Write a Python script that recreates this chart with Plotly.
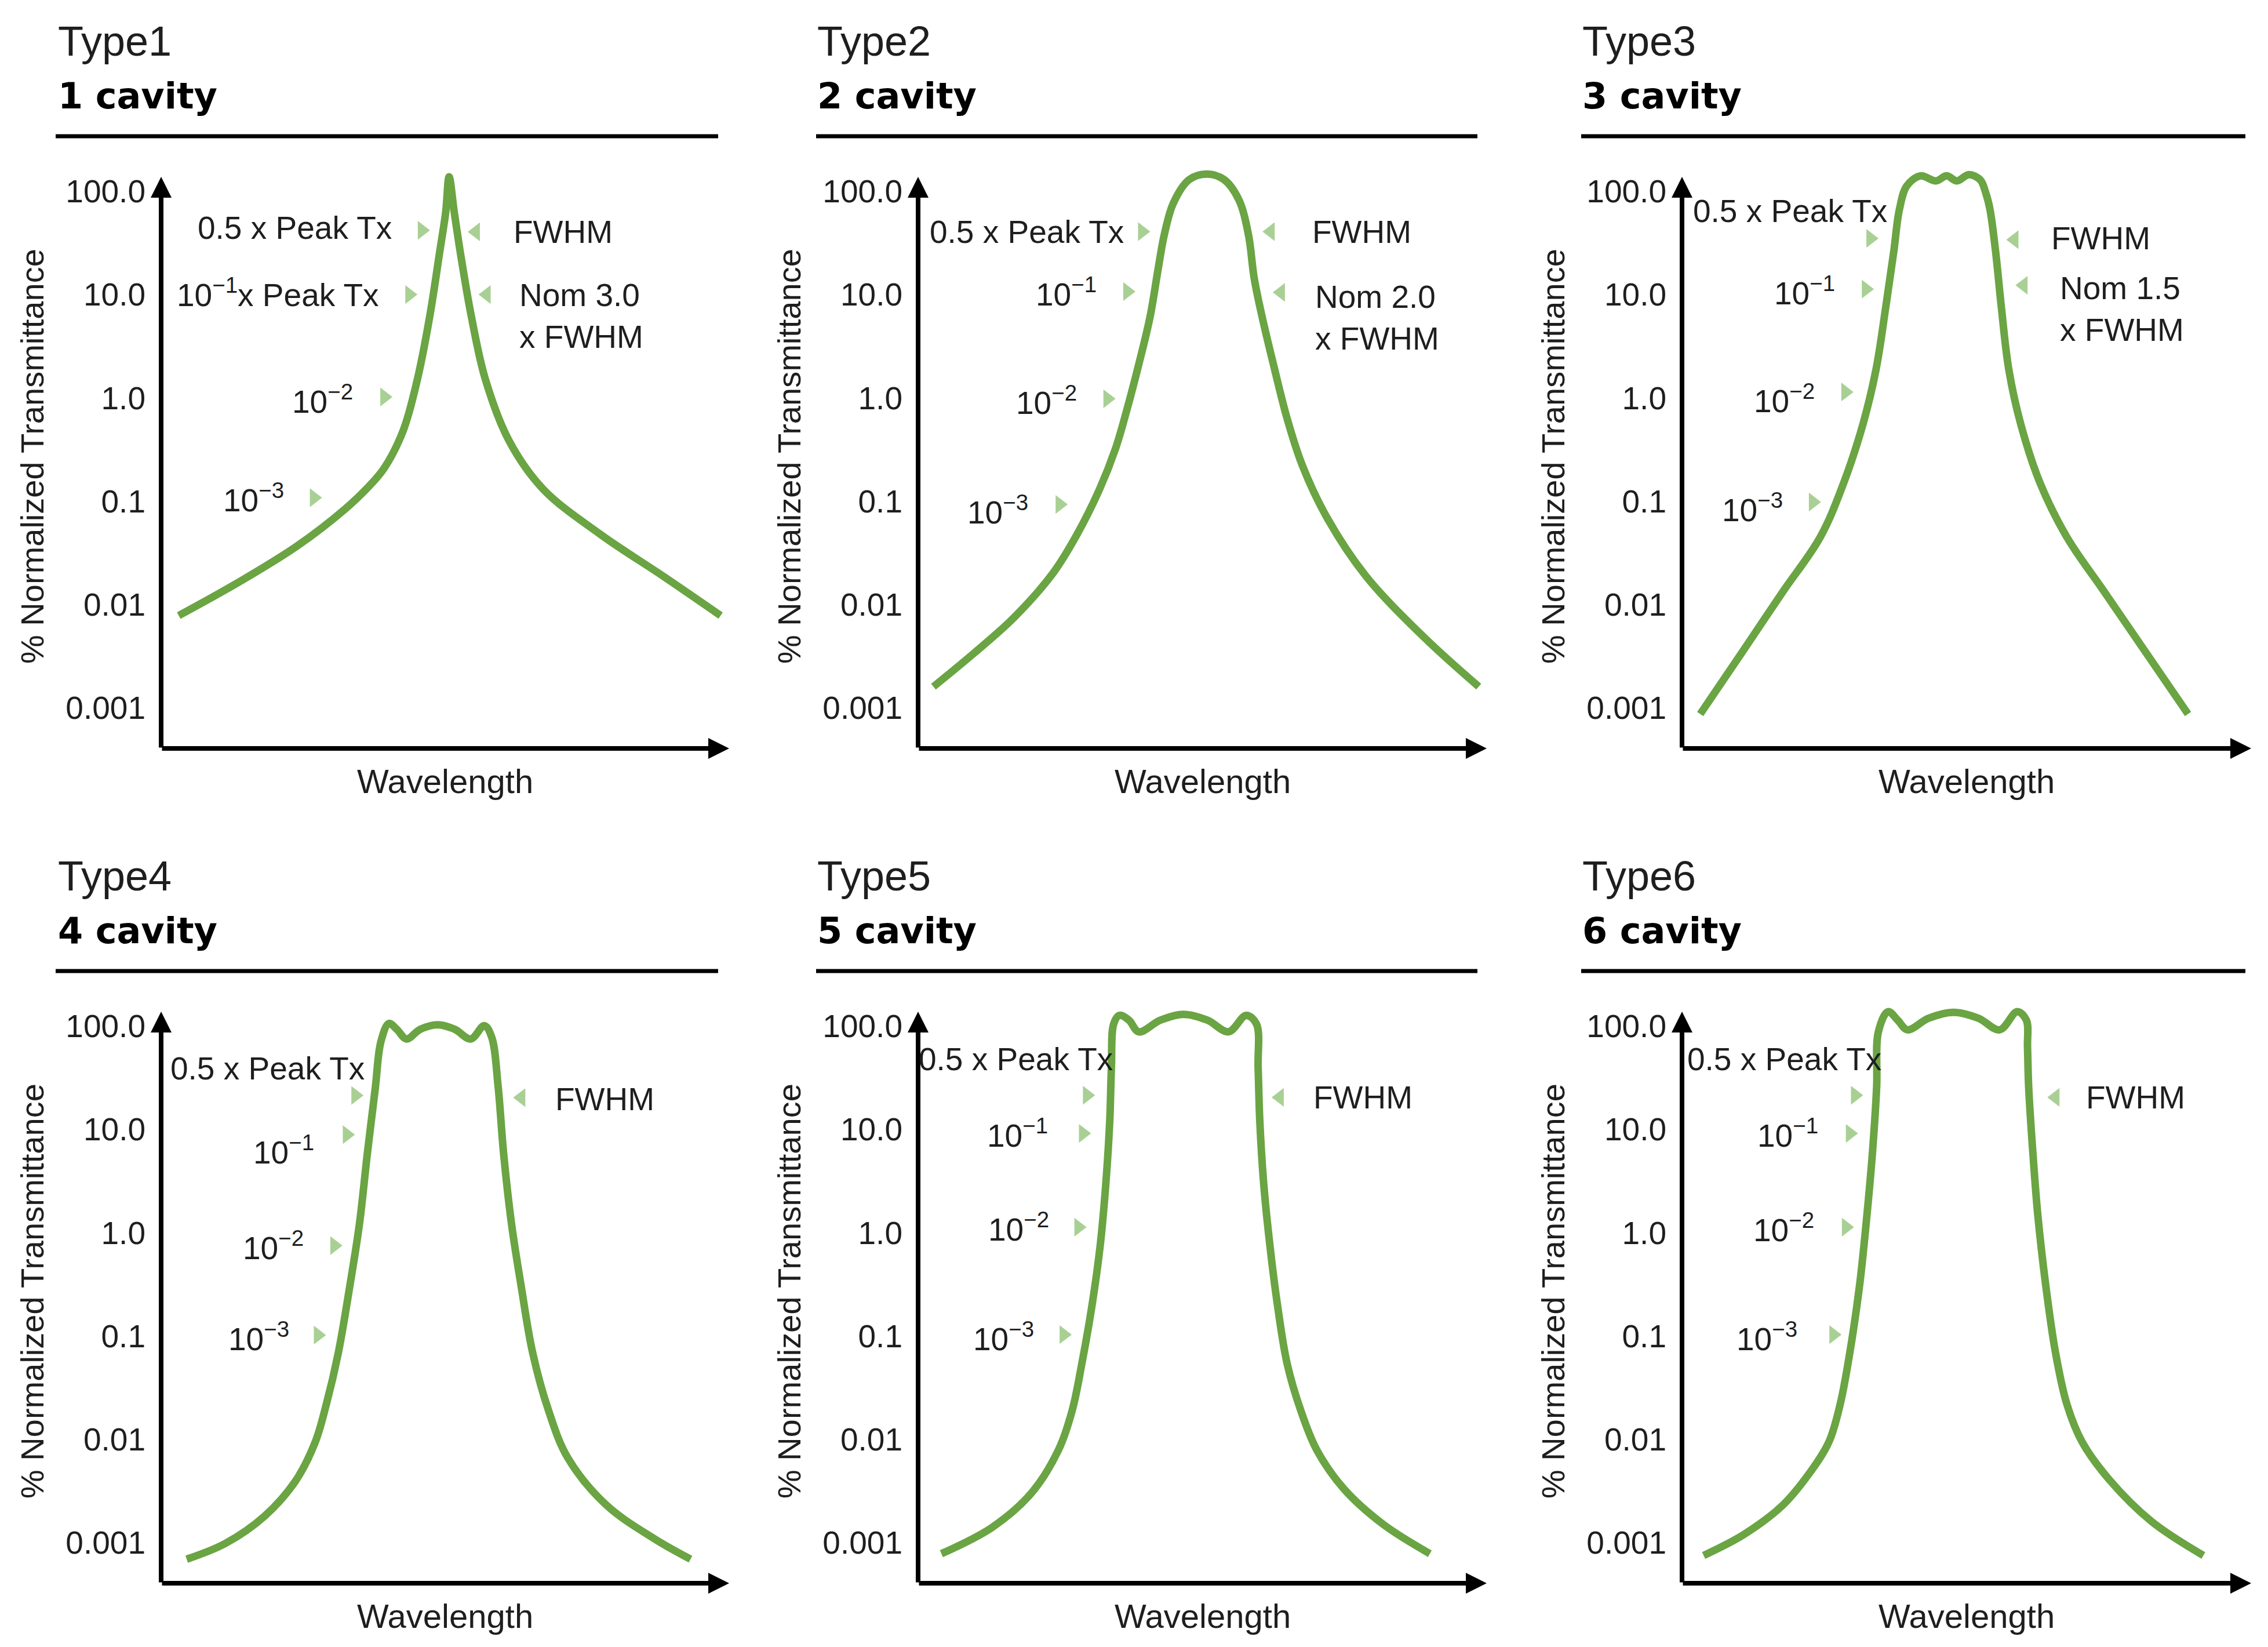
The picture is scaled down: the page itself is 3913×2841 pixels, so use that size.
import numpy as np
import plotly.graph_objects as go

W, H = 3913, 2841

# ---- text ----
type_names = ["Type1", "Type2", "Type3", "Type4", "Type5", "Type6"]
cavity_names = ["1 cavity", "2 cavity", "3 cavity", "4 cavity", "5 cavity", "6 cavity"]
tick_vals = [100, 10, 1, 0.1, 0.01, 0.001]
tick_text = ["100.0", "10.0", "1.0", "0.1", "0.01", "0.001"]

# ---- curves: relative wavelength (0-100 along axis), % normalized transmittance ----
wl_1 = [3.1, 13.8, 24.0, 32.4, 36.3, 39.3, 42.6, 45.1, 47.3, 49.0, 50.1, 50.7, 51.6, 52.7, 54.6,
        57.1, 61.3, 67.3, 77.5, 88.5, 98.5]
tx_1 = [0.0078, 0.0166, 0.037, 0.084, 0.134, 0.21, 0.48, 1.5, 6.2, 25, 63, 138, 63, 25, 6.2,
        1.5, 0.38, 0.13, 0.047, 0.0186, 0.0078]

wl_2 = [2.7, 9.9, 16.8, 23.7, 27.8, 31.9, 34.7, 36.7, 38.8, 40.8, 42.2, 43.3, 44.9, 47.7,
        50.8, 53.8, 56.4, 58.1, 59.1, 60.5, 62.5, 64.9, 67.6, 71.8, 78.7, 89.0, 98.6]
tx_2 = [0.0016, 0.0034, 0.0074, 0.020, 0.046, 0.13, 0.32, 0.76, 2.1, 6.1, 17.5, 38, 77, 130,
        147, 130, 83, 38, 14.5, 6.1, 2.1, 0.63, 0.22, 0.071, 0.019, 0.0048, 0.0016]

wl_3 = [3.2, 10.8, 17.6, 24.3, 28.4, 31.8, 34.1, 35.8, 37.2, 38.2, 39.5, 41.9, 44.6, 46.5,
        48.3, 50.4, 52.4, 53.4, 54.1, 55.1, 56.1, 57.4, 59.5, 62.9, 67.6, 74.3, 81.7, 88.9]
tx_3 = [0.00087, 0.0036, 0.013, 0.045, 0.15, 0.56, 1.9, 7.6, 26, 67, 113, 141, 126, 141,
        126, 145, 129, 95, 67, 26, 7.6, 1.9, 0.56, 0.15, 0.045, 0.013, 0.0033, 0.00087]

wl_4 = [4.5, 11.3, 18.2, 23.6, 27.1, 29.1, 31.2, 33.2, 34.9, 36.3, 37.7, 38.7, 40.1, 41.5,
        43.2, 45.6, 48.7, 51.7, 54.5, 56.9, 58.2, 59.3, 60.3, 61.7, 63.4, 65.4, 68.2, 71.6,
        78.4, 86.7, 93.2]
tx_4 = [0.00069, 0.00098, 0.0018, 0.0039, 0.0093, 0.022, 0.069, 0.30, 1.2, 5.8, 25, 71, 106, 93,
        75, 93, 103, 93, 75, 101, 78, 27, 5.8, 1.2, 0.30, 0.069, 0.019, 0.0066,
        0.0023, 0.0011, 0.00069]

wl_5 = [4.1, 13.0, 19.9, 24.7, 27.1, 28.8, 30.6, 32.0, 33.0, 33.7, 34.0, 34.4, 35.4, 37.1,
        38.8, 42.6, 46.7, 50.9, 54.6, 57.7, 59.5, 59.8, 60.1, 60.8, 61.9, 63.2, 64.9, 67.3,
        70.1, 74.9, 81.8, 90.0]
tx_5 = [0.00078, 0.0014, 0.0030, 0.0079, 0.019, 0.054, 0.20, 0.73, 2.9, 11.9, 40, 105, 127, 114,
        88, 114, 130, 114, 88, 127, 105, 40, 11.9, 2.9, 0.73, 0.20, 0.054, 0.019,
        0.0079, 0.0033, 0.0015, 0.00078]

wl_6 = [3.8, 10.9, 17.7, 22.4, 25.8, 27.8, 29.5, 31.2, 32.5, 33.5, 34.2, 34.5, 36.2, 37.9,
        39.6, 43.3, 47.7, 52.1, 55.8, 58.9, 60.5, 60.7, 60.9, 61.6, 62.5, 63.9, 65.6, 67.6,
        70.3, 75.0, 82.5, 91.6]
tx_6 = [0.00075, 0.0012, 0.0023, 0.0047, 0.0094, 0.022, 0.070, 0.31, 1.5, 6.4, 26, 88, 138, 114,
        92, 119, 136, 119, 92, 138, 114, 63, 26, 6.4, 1.5, 0.31, 0.070, 0.022,
        0.0094, 0.0041, 0.0016, 0.00075]

# ---- level labels (left side) and their pointer marks ----
left_text_1 = ["0.5 x Peak Tx", "10<sup>\u22121</sup>x Peak Tx", "10<sup>\u22122</sup>", "10<sup>\u22123</sup>"]
left_text = ["0.5 x Peak Tx", "10<sup>\u22121</sup>", "10<sup>\u22122</sup>", "10<sup>\u22123</sup>"]

left_x_1 = [40.8, 38.6, 34.0, 21.8]
left_tx_1 = [44.4, 10.4, 0.96, 0.107]
lmark_x_1 = [45.9, 43.7, 39.3, 26.9]
lmark_tx_1 = [41.9, 10.0, 1.02, 0.108]

left_x_2 = [36.4, 31.6, 28.1, 19.6]
left_tx_2 = [40.7, 10.5, 0.94, 0.082]
lmark_x_2 = [39.4, 36.8, 33.3, 24.9]
lmark_tx_2 = [40.7, 10.7, 0.98, 0.093]

left_x_3 = [36.3, 27.1, 23.5, 17.9]
left_tx_3 = [64.6, 10.8, 0.98, 0.086]
lmark_x_3 = [33.1, 32.3, 28.7, 23.0]
lmark_tx_3 = [35.0, 11.3, 1.14, 0.098]

left_x_4 = [36.0, 27.1, 25.3, 22.8]
left_tx_4 = [39.0, 6.28, 0.75, 0.0975]
lmark_x_4 = [34.2, 32.7, 30.5, 27.6]
lmark_tx_4 = [21.3, 8.9, 0.75, 0.102]

left_x_5 = [34.5, 23.0, 23.2, 20.6]
left_tx_5 = [47.9, 9.14, 1.13, 0.0986]
lmark_x_5 = [29.7, 29.0, 28.2, 25.6]
lmark_tx_5 = [21.4, 9.14, 1.13, 0.103]

left_x_6 = [35.2, 24.1, 23.4, 20.5]
left_tx_6 = [47.9, 9.14, 1.11, 0.0986]
lmark_x_6 = [30.4, 29.5, 28.8, 26.6]
lmark_tx_6 = [21.4, 9.14, 1.13, 0.103]

# ---- right side labels ----
right_text_1 = ["FWHM", "Nom 3.0<br>x FWHM"]
right_text_2 = ["FWHM", "Nom 2.0<br>x FWHM"]
right_text_3 = ["FWHM", "Nom 1.5<br>x FWHM"]
right_text_4 = ["FWHM"]

right_x_1 = [61.8, 62.9]
right_tx_1 = [40.5, 6.18]
rmark_x_1 = [55.4, 57.3]
rmark_tx_1 = [40.5, 10.0]

right_x_2 = [69.1, 69.6]
right_tx_2 = [40.7, 5.96]
rmark_x_2 = [62.0, 63.8]
rmark_tx_2 = [40.7, 10.5]

right_x_3 = [64.7, 66.2]
right_tx_3 = [35.0, 7.28]
rmark_x_3 = [58.4, 60.0]
rmark_tx_3 = [34.0, 12.3]

right_x_4 = [69.2]
right_tx_4 = [19.5]
rmark_x_4 = [63.4]
rmark_tx_4 = [20.3]

right_x_5 = [69.3]
right_tx_5 = [20.4]
rmark_x_5 = [63.6]
rmark_tx_5 = [20.4]

right_x_6 = [70.8]
right_tx_6 = [20.4]
rmark_x_6 = [65.6]
rmark_tx_6 = [20.4]

panels = [
    (wl_1, tx_1, left_text_1, left_x_1, left_tx_1, lmark_x_1, lmark_tx_1,
     right_text_1, right_x_1, right_tx_1, rmark_x_1, rmark_tx_1),
    (wl_2, tx_2, left_text, left_x_2, left_tx_2, lmark_x_2, lmark_tx_2,
     right_text_2, right_x_2, right_tx_2, rmark_x_2, rmark_tx_2),
    (wl_3, tx_3, left_text, left_x_3, left_tx_3, lmark_x_3, lmark_tx_3,
     right_text_3, right_x_3, right_tx_3, rmark_x_3, rmark_tx_3),
    (wl_4, tx_4, left_text, left_x_4, left_tx_4, lmark_x_4, lmark_tx_4,
     right_text_4, right_x_4, right_tx_4, rmark_x_4, rmark_tx_4),
    (wl_5, tx_5, left_text, left_x_5, left_tx_5, lmark_x_5, lmark_tx_5,
     right_text_4, right_x_5, right_tx_5, rmark_x_5, rmark_tx_5),
    (wl_6, tx_6, left_text, left_x_6, left_tx_6, lmark_x_6, lmark_tx_6,
     right_text_4, right_x_6, right_tx_6, rmark_x_6, rmark_tx_6),
]

# ---- layout (pixels) ----
col_title_x = [102, 1412, 2732]
col_rule = [(100, 1243), (1412, 2553), (2732, 3878)]
col_axis = [(282, 1262), (1588, 2569), (2906, 3888)]
row_shift = [0, 1440]
TYPE_Y, CAV_Y, RULE_Y = 76, 170, 240
AX_TOP, AX_BOT, WAVE_Y, YT_Y = 310, 1296, 1352, 792
OX, OY = -12, -13  # page margin compensation

Y_LO, Y_ARROW, Y_HI = -3.394, 2.14, 2.40   # log10 range; arrow tip; plot top (room for peaks)
DEC_PX = (AX_BOT - AX_TOP) / (Y_ARROW - Y_LO)
PLOT_TOP = AX_BOT - DEC_PX * (Y_HI - Y_LO)

GREEN = "#6aa443"
MARK = "rgba(140,192,112,0.75)"
TXT = "#1e1e1e"
FONT = "Liberation Sans, Arial, sans-serif"


def px(x):
    return (x + OX) / W


def py(y):
    return 1 - (y + OY) / H


fig = go.Figure()
annotations = []
shapes = []

for i, p in enumerate(panels):
    (wl, tx, ltxt, lx, ltx, lmx, lmtx, rtxt, rx, rtx, rmx, rmtx) = p
    r, c = divmod(i, 3)
    dy = row_shift[r]
    n = "" if i == 0 else str(i + 1)
    xa, ya = "x" + n, "y" + n
    x0, x1 = col_axis[c]

    fig.update_layout(**{
        "xaxis" + n: dict(domain=[px(x0), px(x1)], range=[0, 100], anchor=ya,
                          showgrid=False, zeroline=False, showline=False,
                          showticklabels=False, ticks=""),
        "yaxis" + n: dict(domain=[py(AX_BOT + dy), py(PLOT_TOP + dy)], type="log",
                          range=[Y_LO, Y_HI], anchor=xa, showgrid=False,
                          zeroline=False, showline=False, ticks="",
                          tickvals=tick_vals, ticktext=tick_text,
                          ticklabelstandoff=26,
                          tickfont=dict(family=FONT, size=55, color=TXT)),
    })

    fig.add_trace(go.Scatter(x=wl, y=tx, mode="lines", xaxis=xa, yaxis=ya,
                             line=dict(color=GREEN, width=13, shape="spline", smoothing=1.0),
                             showlegend=False, hoverinfo="skip"))
    fig.add_trace(go.Scatter(x=lmx, y=lmtx, mode="markers", xaxis=xa, yaxis=ya,
                             marker=dict(symbol="triangle-right", size=28, color=MARK),
                             showlegend=False, hoverinfo="skip"))
    fig.add_trace(go.Scatter(x=rmx, y=rmtx, mode="markers", xaxis=xa, yaxis=ya,
                             marker=dict(symbol="triangle-left", size=28, color=MARK),
                             showlegend=False, hoverinfo="skip"))

    # axis arrows (x axis along the bottom, y axis up to Y_ARROW)
    annotations.append(dict(x=1, y=0, ax=0, ay=0, xref=xa + " domain",
                            yref=ya + " domain", axref=xa + " domain",
                            ayref=ya + " domain", showarrow=True, text="",
                            arrowhead=2, arrowsize=0.9, arrowwidth=8,
                            arrowcolor="black", standoff=0, startstandoff=0))
    annotations.append(dict(x=0, y=Y_ARROW, ax=0, ay=Y_LO, xref=xa + " domain",
                            yref=ya, axref=xa + " domain", ayref=ya,
                            showarrow=True, text="",
                            arrowhead=2, arrowsize=0.9, arrowwidth=8,
                            arrowcolor="black", standoff=0, startstandoff=0))

    for t, xv, tv in zip(ltxt, lx, ltx):
        annotations.append(dict(x=xv, y=np.log10(tv), xref=xa, yref=ya, text=t,
                                showarrow=False, xanchor="right", yanchor="middle",
                                font=dict(family=FONT, size=55, color=TXT)))
    for t, xv, tv in zip(rtxt, rx, rtx):
        annotations.append(dict(x=xv, y=np.log10(tv), xref=xa, yref=ya, text=t,
                                showarrow=False, xanchor="left", yanchor="middle",
                                align="left",
                                font=dict(family=FONT, size=55, color=TXT)))

    # titles
    annotations.append(dict(x=px(col_title_x[c]), y=py(TYPE_Y + dy), xref="paper", yref="paper",
                            text=type_names[i], showarrow=False, xanchor="left",
                            yanchor="middle", font=dict(family=FONT, size=72, color=TXT)))
    annotations.append(dict(x=px(col_title_x[c]), y=py(CAV_Y + dy), xref="paper", yref="paper",
                            text="<b>" + cavity_names[i] + "</b>", showarrow=False,
                            xanchor="left", yanchor="middle",
                            font=dict(family="DejaVu Sans, sans-serif", size=62, color="black")))
    shapes.append(dict(type="line", xref="paper", yref="paper",
                       x0=px(col_rule[c][0]), x1=px(col_rule[c][1]),
                       y0=py(RULE_Y + dy), y1=py(RULE_Y + dy),
                       line=dict(color="black", width=7)))

    # axis titles
    annotations.append(dict(x=px((x0 + x1) / 2), y=py(WAVE_Y + dy), xref="paper", yref="paper",
                            text="Wavelength", showarrow=False, xanchor="center",
                            yanchor="middle", font=dict(family=FONT, size=58, color=TXT)))
    annotations.append(dict(x=px(x0 - 223), y=py(YT_Y + dy), xref="paper", yref="paper",
                            text="% Normalized Transmittance", showarrow=False,
                            textangle=-90, xanchor="center", yanchor="middle",
                            font=dict(family=FONT, size=56, color=TXT)))

fig.update_layout(width=W, height=H, margin=dict(l=0, r=0, t=0, b=0),
                  paper_bgcolor="white", plot_bgcolor="white",
                  annotations=annotations, shapes=shapes)

fig.write_html("out.html")
